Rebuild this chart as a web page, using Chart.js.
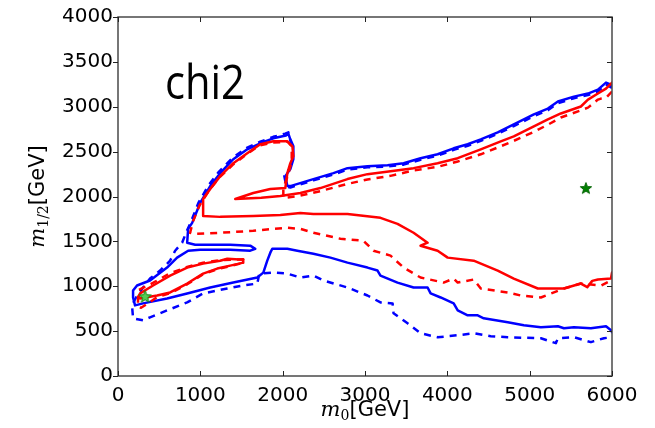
<!DOCTYPE html>
<html>
<head>
<meta charset="utf-8">
<script src="https://cdn.jsdelivr.net/npm/chart.js@4.4.1/dist/chart.umd.min.js"></script>
<style>
  html, body { margin: 0; padding: 0; background: #fff; }
  #wrap { width: 655px; height: 428px; }
</style>
</head>
<body>
<div id="wrap"><canvas id="chi2Chart" width="655" height="428"></canvas></div>
<script>
// contours in the (m0, m1/2) plane, GeV, as [m0, m12] pairs
const blueSolid = [
  [6000,3230],[5988,3246],[5927,3269],[5829,3191],[5708,3147],[5537,3113],[5343,3058],[5221,2980],
  [5051,2914],[4807,2803],[4612,2715],[4406,2637],[4247,2582],[4077,2537],[3882,2471],[3675,2427],
  [3469,2371],[3274,2349],[3030,2338],[2787,2316],[2617,2260],[2373,2194],[2093,2116],[2057,2116],
  [2032,2227],[2093,2305],[2130,2415],[2130,2559],[2093,2637],[2069,2700],[2040,2680],
  [1886,2648],[1728,2593],[1570,2526],[1400,2415],[1241,2260],[1120,2116],[998,1928],[901,1706],
  [852,1640],[840,1485],
  [937,1463],[1363,1463],[1606,1452],[1667,1418],[1606,1396],[1363,1407],[998,1407],[852,1396],
  [718,1319],[596,1208],[389,1064],[231,1008],[183,953],[183,875],[207,787],
  [304,809],[596,864],[840,920],[1120,986],[1400,1041],[1692,1097],[1765,1152],[1813,1285],
  [1850,1374],[1874,1418],[2057,1418],[2178,1396],[2373,1363],[2580,1319],[2787,1263],[3030,1208],
  [3152,1175],[3188,1119],[3395,1041],[3590,986],[3760,986],[3797,920],[3919,875],[4077,809],
  [4126,731],[4247,676],[4369,676],[4442,643],[4734,598],[4929,565],[5136,543],[5343,554],
  [5416,532],[5537,543],[5744,532],[5927,554],[5988,510],[6000,488]
];
const blueDashed = [
  [6000,3210],[5927,3250],[5829,3170],[5708,3130],[5537,3095],[5343,3040],[5221,2960],[5051,2895],
  [4807,2785],[4612,2700],[4406,2620],[4247,2565],[4077,2520],[3882,2455],[3675,2410],[3469,2355],
  [3274,2335],[3030,2325],[2787,2300],[2617,2245],[2373,2180],[2093,2100],[2045,2110],
  [2020,2227],[2080,2305],[2120,2415],[2120,2559],[2085,2640],[2069,2715],[2030,2700],
  [1886,2665],[1728,2610],[1570,2545],[1390,2430],[1225,2275],[1100,2125],[980,1935],[880,1706],
  [820,1580],[779,1485],[694,1396],[633,1285],[511,1175],[389,1086],[231,897],[170,787],[183,643],
  [304,620],[389,654],[596,731],[840,820],[1034,920],[1327,975],[1521,1008],[1692,1030],[1716,1141],
  [1886,1152],[2057,1141],[2215,1097],[2373,1119],[2495,1064],[2787,986],[3030,897],[3188,820],
  [3335,809],[3347,698],[3517,587],[3675,476],[3882,432],[4126,454],[4320,476],[4527,443],
  [4734,432],[5136,421],[5318,366],[5343,421],[5537,432],[5744,377],[5902,421],[6000,432]
];
const redSolid = [
  [6000,3270],[5988,3258],[5927,3202],[5829,3147],[5708,3080],[5622,3003],[5379,2925],[5221,2859],
  [5051,2781],[4807,2670],[4649,2615],[4406,2526],[4126,2427],[3882,2371],[3590,2316],[3310,2282],
  [3030,2249],[2787,2194],[2458,2094],[2215,2039],[1972,2005],[1740,1985],[1424,1972],
  [1643,2039],[1850,2083],[2032,2094],
  [2057,2260],[2093,2371],[2130,2449],[2118,2559],[2057,2615],
  [1886,2615],[1728,2582],[1570,2482],[1400,2371],[1241,2227],[1120,2083],[1034,1972],[1034,1784],
  [1241,1773],[1643,1784],[1972,1795],[2215,1817],[2373,1806],[2787,1806],[3188,1762],[3395,1695],
  [3590,1596],[3760,1485],[3675,1452],[3882,1396],[4004,1319],[4320,1285],[4612,1175],[4807,1086],
  [5099,975],[5416,975],[5622,1030],[5700,990],[5760,1060],[5829,1075],[5988,1086],[6000,1152]
];
const redDashed = [
  [6000,3170],[5927,3100],[5866,3091],[5829,3080],[5708,2990],[5622,2960],[5379,2880],[5221,2800],
  [5051,2720],[4807,2620],[4649,2560],[4406,2470],[4126,2390],[3882,2330],[3590,2290],[3310,2230],
  [3030,2190],[2787,2140],[2458,2060],[2215,2010],[2008,1983],
  [2008,2094],[2070,2250],[2110,2400],[2110,2560],[2060,2610],[1880,2600],[1720,2570],[1560,2470],
  [1390,2350],[1230,2210],[1100,2060],[990,1900],[910,1720],[876,1596],
  [913,1584],[1241,1596],[1643,1618],[1886,1640],[2057,1651],[2215,1640],[2373,1596],[2702,1529],
  [2982,1507],[3103,1396],[3310,1341],[3469,1208],[3675,1097],[3955,1041],[4077,1086],[4126,1041],
  [4320,1075],[4406,975],[4734,931],[4892,897],[5136,875],[5416,975],[5622,1030],[5866,1008],
  [5988,1064],[6000,1041]
];
const redLobe = [
  [268,920],[426,1008],[633,1119],[840,1208],[1034,1252],[1241,1285],[1327,1307],[1521,1296],
  [1521,1263],[1363,1230],[1205,1197],[1034,1141],[840,1030],[633,931],[475,897],[268,864],
  [250,890],[268,920]
];
const redLobeDashed = [
  [255,960],[430,1040],[620,1140],[840,1215],[1034,1262],[1241,1292],[1521,1300],[1521,1260],
  [1363,1225],[1205,1190],[1034,1135],[840,1022],[633,922],[475,880],[350,800],[280,760],
  [243,770],[243,900],[255,960]
];
const bestFitLow = [[329,886]];
const bestFitHigh = [[5683,2094]];

const xTicks = [0,1000,2000,3000,4000,5000,6000];
const yTicks = [0,500,1000,1500,2000,2500,3000,3500,4000];
const panelLabel = 'chi2';
const panelLabelAt = [570, 3090];

const toPoints = pairs => pairs.map(([x, y]) => ({ x, y }));

// small filled five-point star used as a point marker
function starMarker(fill, stroke, size) {
  const c = document.createElement('canvas');
  c.width = size; c.height = size;
  const g = c.getContext('2d');
  const r = size / 2 - 1, ri = r * 0.42, cx = size / 2, cy = size / 2 + 0.5;
  g.beginPath();
  for (let i = 0; i < 10; i++) {
    const a = -Math.PI / 2 + i * Math.PI / 5;
    const rr = i % 2 ? ri : r;
    g.lineTo(cx + rr * Math.cos(a), cy + rr * Math.sin(a));
  }
  g.closePath();
  g.fillStyle = fill; g.fill();
  g.lineWidth = 1; g.strokeStyle = stroke; g.stroke();
  return c;
}

function line(data, color, dashed) {
  return {
    data: toPoints(data),
    showLine: true,
    borderColor: color,
    borderWidth: 2.5,
    borderDash: dashed ? [7, 6] : [],
    borderJoinStyle: 'round',
    borderCapStyle: dashed ? 'butt' : 'round',
    pointRadius: 0,
    fill: false,
    tension: 0
  };
}

// draws sub-scripted math labels piece by piece
function drawParts(ctx, parts, cx, baseline) {
  let total = 0;
  parts.forEach(p => { ctx.font = p.font; p.w = ctx.measureText(p.text).width; total += p.w; });
  let x = cx - total / 2;
  parts.forEach(p => {
    ctx.font = p.font;
    ctx.fillText(p.text, x, baseline + (p.dy || 0));
    x += p.w;
  });
}

const framePlugin = {
  id: 'frame',
  afterDraw(chart) {
    const { ctx, chartArea: a, scales } = chart;
    ctx.save();
    ctx.strokeStyle = '#4a4a4a';
    ctx.lineWidth = 1.5;
    ctx.strokeRect(a.left, a.top, a.right - a.left, a.bottom - a.top);
    ctx.strokeStyle = '#222';
    ctx.lineWidth = 1;
    ctx.beginPath();
    xTicks.forEach(v => {
      const px = Math.round(scales.x.getPixelForValue(v)) + 0.5;
      ctx.moveTo(px, a.bottom); ctx.lineTo(px, a.bottom - 5);
      ctx.moveTo(px, a.top); ctx.lineTo(px, a.top + 5);
    });
    yTicks.forEach(v => {
      const py = Math.round(scales.y.getPixelForValue(v)) + 0.5;
      ctx.moveTo(a.left, py); ctx.lineTo(a.left - 5, py);
      ctx.moveTo(a.right, py); ctx.lineTo(a.right - 5, py);
    });
    ctx.stroke();

    // panel label
    ctx.fillStyle = '#000';
    ctx.textBaseline = 'alphabetic';
    ctx.font = '47px "Open Sans"';
    const w = ctx.measureText(panelLabel).width;
    const lx = scales.x.getPixelForValue(panelLabelAt[0]);
    const ly = scales.y.getPixelForValue(panelLabelAt[1]);
    ctx.save();
    ctx.translate(lx, ly);
    ctx.scale(80 / w, 1);
    ctx.fillText(panelLabel, 0, 0);
    ctx.restore();

    // axis titles
    const mFont = 'italic 21px "DejaVu Serif"';
    const subFont = '14px "DejaVu Serif"';
    const unitFont = '21px "DejaVu Sans"';
    drawParts(ctx, [
      { text: 'm', font: mFont },
      { text: '0', font: subFont, dy: 4 },
      { text: '[GeV]', font: unitFont }
    ], (a.left + a.right) / 2, 416);

    ctx.save();
    ctx.translate(44, (a.top + a.bottom) / 2);
    ctx.rotate(-Math.PI / 2);
    drawParts(ctx, [
      { text: 'm', font: mFont },
      { text: '1/2', font: subFont, dy: 4 },
      { text: '[GeV]', font: unitFont }
    ], 0, 0);
    ctx.restore();
    ctx.restore();
  }
};

const tickFont = { family: 'DejaVu Sans', size: 20 };
const plainNumber = v => String(v);

new Chart(document.getElementById('chi2Chart'), {
  type: 'scatter',
  data: {
    datasets: [
      { data: toPoints(bestFitLow), pointStyle: starMarker('#55cc55', '#118811', 15), pointRadius: 7 },
      { data: toPoints(bestFitHigh), pointStyle: starMarker('#008000', '#006400', 14), pointRadius: 7 },
      line(redLobe, '#ff0000', false),
      line(redLobeDashed, '#ff0000', true),
      line(redSolid, '#ff0000', false),
      line(redDashed, '#ff0000', true),
      line(blueSolid, '#0000ff', false),
      line(blueDashed, '#0000ff', true)
    ]
  },
  options: {
    responsive: false,
    animation: false,
    layout: { padding: { top: 16, right: 43, left: 0, bottom: 0 } },
    plugins: { legend: { display: false }, tooltip: { enabled: false }, title: { display: false } },
    scales: {
      x: {
        type: 'linear', min: 0, max: 6000,
        afterFit: s => { s.height = 52; },
        afterBuildTicks: s => { s.ticks = xTicks.map(value => ({ value })); },
        ticks: { autoSkip: false, maxRotation: 0, padding: 8, color: '#000', font: tickFont, callback: plainNumber },
        grid: { display: false, drawTicks: false },
        border: { display: false }
      },
      y: {
        type: 'linear', min: 0, max: 4000,
        afterFit: s => { s.width = 118; },
        afterBuildTicks: s => { s.ticks = yTicks.map(value => ({ value })); },
        ticks: { autoSkip: false, padding: 5, color: '#000', font: tickFont, callback: plainNumber },
        grid: { display: false, drawTicks: false },
        border: { display: false }
      }
    }
  },
  plugins: [framePlugin]
});
</script>
</body>
</html>
